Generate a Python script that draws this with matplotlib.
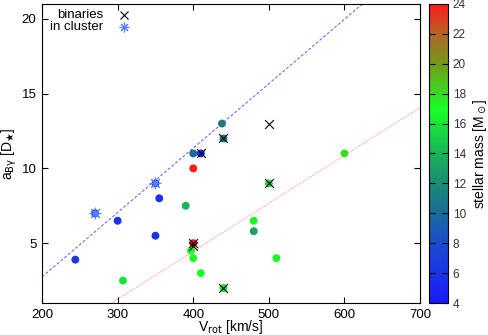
import numpy as np
import matplotlib
matplotlib.use('Agg')
import matplotlib.pyplot as plt
from matplotlib.colors import LinearSegmentedColormap, Normalize

plt.rcParams['font.family'] = ['Liberation Sans', 'DejaVu Sans']

# stars: rotation velocity, a_Bgamma, stellar mass
vrot = [244, 270, 300, 307, 350, 350, 355, 390, 397, 400, 400, 400, 400, 410, 410,
        438, 440, 440, 480, 480, 500, 510, 600]
abg = [3.9, 7.0, 6.5, 2.5, 9.0, 5.5, 8.0, 7.5, 4.5, 4.0, 5.0, 10.0, 11.0, 11.0, 3.0,
       13.0, 12.0, 2.0, 6.5, 5.8, 9.0, 4.0, 11.0]
mass = [6, 7, 6, 16, 7, 6, 6, 14, 17, 17, 24, 24, 10, 5, 17,
        11, 11, 16, 17, 13, 16, 17, 18]

# binaries
bin_v = [400, 400, 410, 440, 440, 500, 500]
bin_a = [5.0, 4.8, 11.0, 12.0, 2.0, 13.0, 9.0]

# cluster members
clu_v = [270, 350]
clu_a = [7.0, 9.0]

# fit lines
blue_x = [200, 624]
blue_y = [2.75, 21.0]
red_x = [292, 700]
red_y = [1.0, 14.07]

cmap = LinearSegmentedColormap.from_list('mass', [
    (0.0, (0.1, 0.1, 1.0)),
    (0.2, (0.1, 0.3, 0.8)),
    (0.3, (0.1, 0.42, 0.6)),
    (0.4, (0.1, 0.55, 0.45)),
    (0.5, (0.1, 0.7, 0.35)),
    (0.65, (0.1, 1.0, 0.15)),
    (0.8, (0.45, 0.6, 0.1)),
    (0.9, (0.7, 0.4, 0.15)),
    (1.0, (1.0, 0.1, 0.1)),
])
norm = Normalize(4, 24)

fig = plt.figure(figsize=(4.89, 3.35), dpi=100)
ax = fig.add_axes([0.086, 0.0955, 0.773, 0.893])
cax = fig.add_axes([0.877, 0.0955, 0.039, 0.893])

ax.plot(blue_x, blue_y, ls=(0, (3, 2)), color=(0.35, 0.35, 1.0), lw=0.7)
ax.plot(red_x, red_y, ls=(0, (1, 1)), color=(1.0, 0.6, 0.6), lw=0.8)

sc = ax.scatter(vrot, abg, c=mass, cmap=cmap, norm=norm, s=22, zorder=3)
ax.scatter(bin_v, bin_a, marker='x', color='black', s=40, lw=0.8, zorder=4)
ax.scatter(clu_v, clu_a, marker=(8, 2, 0), color=(0.35, 0.5, 1.0), s=60, lw=0.8, zorder=4)

ax.set_xlim(200, 700)
ax.set_ylim(1, 21)
ax.set_xticks([200, 300, 400, 500, 600, 700])
ax.set_yticks([5, 10, 15, 20])
ax.tick_params(direction='in', top=True, right=True, labelsize=9.5, length=4, pad=4)
ax.set_xlabel(r'V$_{\rm rot}$ [km/s]', fontsize=10, labelpad=-1.5)
ax.set_ylabel(r'a$_{\rm B\gamma}$ [D$_\bigstar$]', fontsize=10, labelpad=2)

# legend
ax.text(0.162, 0.964, 'binaries', transform=ax.transAxes, ha='right', va='center', fontsize=9.5)
ax.text(0.162, 0.922, 'in cluster', transform=ax.transAxes, ha='right', va='center', fontsize=9.5)
ax.plot([0.216], [0.964], 'x', color='black', ms=6, mew=0.8, transform=ax.transAxes)
ax.plot([0.216], [0.922], marker=(8, 2, 0), color=(0.35, 0.5, 1.0), ms=7, mew=0.8,
        transform=ax.transAxes, ls='none')

cb = fig.colorbar(sc, cax=cax)
cb.set_ticks(np.arange(4, 25, 2))
cb.ax.tick_params(direction='in', left=True, right=True, labelsize=8.5, length=4,
                  labelcolor='#333333')
cb.outline.set_linewidth(0.8)
cb.set_label(r'stellar mass [M$_\odot$]', fontsize=10)

fig.savefig('out.png', dpi=100)
